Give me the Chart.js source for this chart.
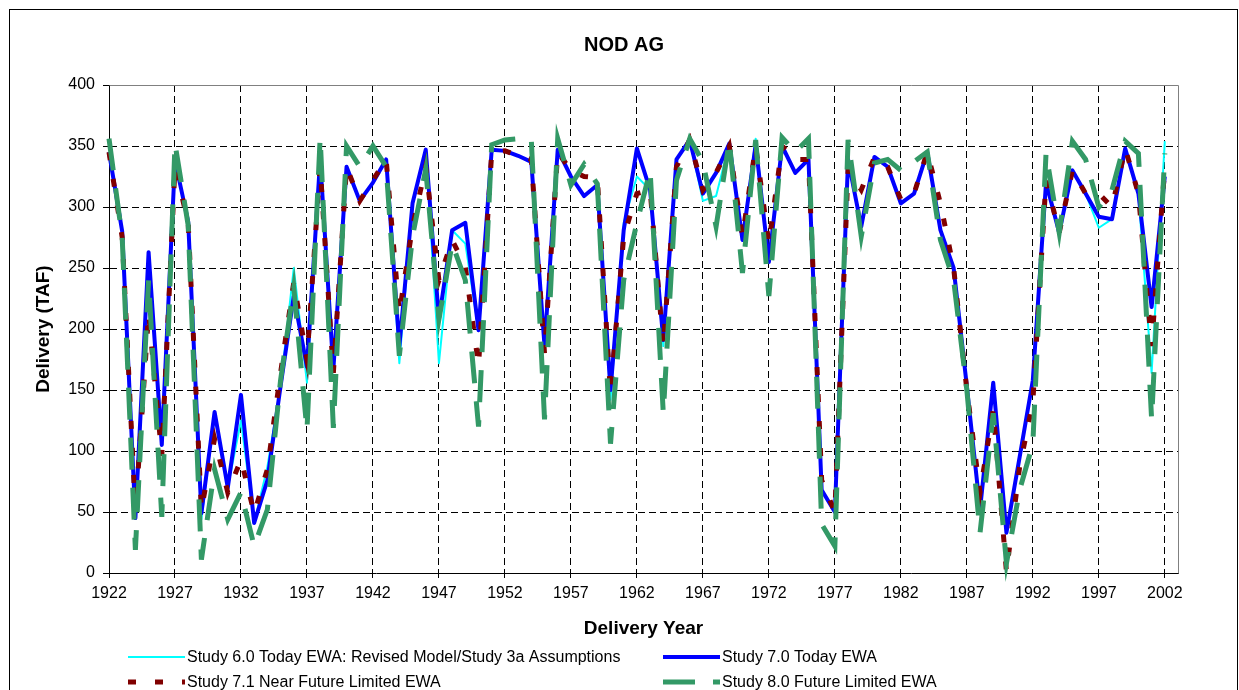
<!DOCTYPE html>
<html>
<head>
<meta charset="utf-8">
<title>NOD AG</title>
<script src="https://cdn.jsdelivr.net/npm/chart.js@4.4.1/dist/chart.umd.min.js"></script>
<style>
    body { margin: 0; background: #fff; }
    #wrap { width: 1239px; height: 690px; }
</style>
</head>
<body>
<div id="wrap"><canvas id="nodChart" width="1239" height="690"></canvas></div>
<script>
// Delivery years 1922..2002, one value per year
const FIRST_YEAR = 1922;
const X_TICKS = [1922, 1927, 1932, 1937, 1942, 1947, 1952, 1957, 1962, 1967, 1972, 1977, 1982, 1987, 1992, 1997, 2002];
const Y_TICKS = [0, 50, 100, 150, 200, 250, 300, 350, 400];

const LABEL_60 = "Study 6.0 Today EWA: Revised Model/Study 3a Assumptions";
const LABEL_70 = "Study 7.0 Today EWA";
const LABEL_71 = "Study 7.1 Near Future Limited EWA";
const LABEL_80 = "Study 8.0 Future Limited EWA";

// TAF
const study60 = [
    345, 280, 45, 263, 105, 338, 288, 44, 132, 70,
    125, 41, 87, 153, 250, 156, 339, 167, 333, 305,
    320, 339, 172, 303, 347, 172, 281, 270, 199, 347,
    346, 342, 337, 186, 347, 325, 309, 318, 142, 287,
    325, 314, 186, 339, 355, 305, 309, 352, 273, 356,
    255, 350, 328, 339, 68, 50, 339, 284, 341, 333,
    303, 311, 345, 281, 250, 153, 52, 156, 33, 95,
    158, 320, 279, 330, 311, 283, 290, 348, 311, 164,
    354
];
const study70 = [
    345, 280, 45, 263, 105, 338, 288, 49, 132, 70,
    146, 41, 76, 153, 227, 169, 339, 167, 333, 305,
    320, 339, 186, 303, 347, 208, 281, 287, 199, 347,
    346, 342, 337, 186, 347, 325, 309, 318, 150, 281,
    348, 314, 191, 339, 355, 311, 328, 352, 273, 351,
    255, 350, 328, 339, 68, 50, 339, 284, 341, 333,
    303, 311, 345, 281, 250, 153, 52, 156, 33, 95,
    158, 320, 279, 330, 311, 292, 290, 348, 311, 218,
    325
];
const study71 = [
    345, 275, 50, 213, 96, 333, 287, 52, 110, 66,
    93, 49, 85, 164, 238, 175, 333, 164, 333, 305,
    322, 339, 213, 284, 333, 240, 273, 251, 170, 345,
    346, 342, 339, 180, 345, 330, 325, 324, 147, 276,
    311, 314, 186, 333, 355, 314, 328, 350, 276, 350,
    270, 350, 339, 339, 76, 50, 331, 314, 341, 333,
    306, 311, 345, 303, 250, 150, 66, 134, 1, 87,
    140, 322, 279, 330, 311, 311, 300, 348, 311, 186,
    333
];
const study80 = [
    356, 275, 19, 240, 46, 352, 285, 11, 85, 44,
    66, 22, 52, 158, 234, 117, 357, 119, 350, 333,
    350, 333, 178, 276, 331, 208, 270, 240, 120, 351,
    355, 356, 355, 126, 356, 318, 335, 319, 106, 240,
    287, 330, 131, 322, 356, 337, 284, 354, 246, 355,
    227, 357, 345, 356, 40, 22, 355, 276, 336, 339,
    330, 337, 345, 273, 240, 150, 33, 131, 8, 68,
    106, 344, 279, 354, 339, 300, 314, 354, 344, 126,
    344
];

function toPoints(values) {
    return values.map((v, i) => ({ x: FIRST_YEAR + i, y: v }));
}

// title, outer frame, plot frame and the two-column legend
const decorPlugin = {
    id: "decor",
    beforeDatasetsDraw(chart) {
        const ctx = chart.ctx;
        const a = chart.chartArea;
        ctx.save();
        ctx.strokeStyle = "#808080";
        ctx.lineWidth = 1;
        ctx.beginPath();
        ctx.moveTo(Math.round(a.left) + 0.5, Math.round(a.top) + 0.5);
        ctx.lineTo(Math.round(a.right) + 0.5, Math.round(a.top) + 0.5);
        ctx.lineTo(Math.round(a.right) + 0.5, Math.round(a.bottom) + 0.5);
        ctx.stroke();
        ctx.restore();
    },
    afterDraw(chart) {
        const ctx = chart.ctx;
        ctx.save();
        ctx.strokeStyle = "#000";
        ctx.lineWidth = 1;
        ctx.strokeRect(9.5, 9.5, 1228, 720);

        ctx.fillStyle = "#000";
        ctx.font = "bold 20px 'Liberation Sans', Arial, sans-serif";
        ctx.textAlign = "center";
        ctx.textBaseline = "middle";
        ctx.fillText("NOD AG", 624, 45);

        const items = [
            { ds: 0, x: 128, y: 657 },
            { ds: 1, x: 663, y: 657 },
            { ds: 2, x: 128, y: 682 },
            { ds: 3, x: 663, y: 682 }
        ];
        ctx.font = "16px 'Liberation Sans', Arial, sans-serif";
        ctx.textAlign = "left";
        items.forEach(it => {
            const ds = chart.data.datasets[it.ds];
            ctx.save();
            ctx.strokeStyle = ds.borderColor;
            ctx.lineWidth = ds.borderWidth;
            ctx.setLineDash(ds.borderDash || []);
            ctx.beginPath();
            ctx.moveTo(it.x, it.y);
            ctx.lineTo(it.x + 57, it.y);
            ctx.stroke();
            ctx.restore();
            ctx.fillText(ds.label, it.x + 59, it.y + 1);
        });
        ctx.restore();
    }
};

const ctx = document.getElementById("nodChart").getContext("2d");

new Chart(ctx, {
    type: "line",
    data: {
        datasets: [
            {
                label: LABEL_60,
                data: toPoints(study60),
                borderColor: "#00FFFF",
                borderWidth: 2,
                borderJoinStyle: "round",
                order: 4
            },
            {
                label: LABEL_70,
                data: toPoints(study70),
                borderColor: "#0000FF",
                borderWidth: 4,
                borderJoinStyle: "round",
                order: 3
            },
            {
                label: LABEL_71,
                data: toPoints(study71),
                borderColor: "#800000",
                borderWidth: 5,
                borderDash: [8, 19],
                order: 2
            },
            {
                label: LABEL_80,
                data: toPoints(study80),
                borderColor: "#339966",
                borderWidth: 5,
                borderDash: [32, 18],
                order: 1
            }
        ]
    },
    options: {
        responsive: false,
        animation: false,
        devicePixelRatio: 1,
        layout: { padding: { left: 0, right: 61, top: 85, bottom: 47 } },
        elements: {
            point: { radius: 0, hoverRadius: 0 },
            line: { tension: 0, fill: false }
        },
        datasets: { line: { clip: false } },
        plugins: {
            legend: { display: false },
            title: { display: false },
            tooltip: { enabled: false }
        },
        scales: {
            x: {
                type: "linear",
                min: 1922,
                max: 2003,
                afterBuildTicks: scale => {
                    scale.ticks = X_TICKS.map(v => ({ value: v }));
                },
                afterFit: scale => { scale.height = 70; },
                ticks: {
                    callback: v => String(v),
                    color: "#000",
                    padding: 6,
                    maxRotation: 0,
                    autoSkip: false,
                    font: { family: "'Liberation Sans', Arial, sans-serif", size: 16 }
                },
                grid: {
                    color: c => (c.tick && c.tick.value === 1922 ? "rgba(0,0,0,0)" : "#000"),
                    lineWidth: 1,
                    tickLength: 5,
                    tickColor: "#000"
                },
                border: { display: true, color: "#000", width: 1, dash: [7, 4] },
                title: {
                    display: true,
                    text: "Delivery Year",
                    color: "#000",
                    padding: { top: 0, bottom: 3 },
                    font: { family: "'Liberation Sans', Arial, sans-serif", size: 19, weight: "bold" }
                }
            },
            y: {
                min: 0,
                max: 400,
                afterBuildTicks: scale => {
                    scale.ticks = Y_TICKS.map(v => ({ value: v }));
                },
                afterFit: scale => { scale.width = 109; },
                ticks: {
                    color: "#000",
                    padding: 8,
                    font: { family: "'Liberation Sans', Arial, sans-serif", size: 16 }
                },
                grid: {
                    color: c => (c.tick && (c.tick.value === 0 || c.tick.value === 400) ? "rgba(0,0,0,0)" : "#000"),
                    lineWidth: 1,
                    tickLength: 6,
                    tickColor: "#000"
                },
                border: { display: true, color: "#000", width: 1, dash: [7, 4] },
                title: {
                    display: true,
                    text: "Delivery (TAF)",
                    color: "#000",
                    padding: { top: 32, bottom: 0 },
                    font: { family: "'Liberation Sans', Arial, sans-serif", size: 19, weight: "bold" }
                }
            }
        }
    },
    plugins: [decorPlugin]
});
</script>
</body>
</html>
